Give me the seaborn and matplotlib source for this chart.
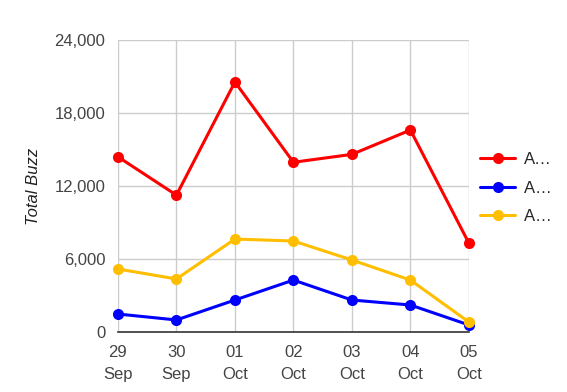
import pandas as pd
import matplotlib.pyplot as plt
import seaborn as sns

sns.set_style("white")
plt.rcParams["font.family"] = ["Liberation Sans", "DejaVu Sans"]

dates = ["29\nSep", "30\nSep", "01\nOct", "02\nOct", "03\nOct", "04\nOct", "05\nOct"]
series_names = ["A…", "A… ", "A…  "]
red_vals = [14400, 11250, 20550, 13950, 14600, 16600, 7300]
blue_vals = [1480, 990, 2630, 4270, 2630, 2220, 580]
yellow_vals = [5180, 4360, 7640, 7480, 5920, 4270, 820]
colors = ["#ff0000", "#0000ff", "#ffbf00"]

df = pd.DataFrame({
    "x": list(range(len(dates))) * 3,
    "buzz": red_vals + blue_vals + yellow_vals,
    "series": [series_names[0]] * 7 + [series_names[1]] * 7 + [series_names[2]] * 7,
})

fig = plt.figure(figsize=(5.67, 3.92), dpi=100)
ax = fig.add_axes([0.208, 0.153, 0.619, 0.745])

sns.lineplot(
    data=df, x="x", y="buzz", hue="series", palette=colors,
    marker="o", markersize=8, markeredgewidth=0, linewidth=2.2, ax=ax,
    clip_on=False, zorder=3
)

ax.set_xlim(0, len(dates) - 1)
ax.set_ylim(0, 24000)
ax.set_xticks(range(len(dates)))
ax.set_xticklabels(dates, linespacing=1.6)
ax.set_yticks(range(0, 24001, 6000))
ax.set_yticklabels([f"{v:,}" for v in range(0, 24001, 6000)])
ax.tick_params(axis="both", length=0, labelsize=12, colors="#444444")
ax.tick_params(axis="x", pad=9)
ax.tick_params(axis="y", pad=9)
ax.grid(True, color="#cccccc", linewidth=1)
for s in ["top", "right", "left"]:
    ax.spines[s].set_visible(False)
ax.spines["bottom"].set_color("#333333")
ax.spines["bottom"].set_linewidth(1.2)
ax.spines["bottom"].set_zorder(2)

ax.set_xlabel("")
ax.set_ylabel("Total Buzz", fontsize=12, style="italic", color="#222222", labelpad=10)

ax.legend(loc="upper left", bbox_to_anchor=(0.99, 0.667), frameon=False,
          fontsize=12, handlelength=2.1, labelspacing=0.8, handletextpad=0.5)

plt.savefig("out.png", dpi=100)
